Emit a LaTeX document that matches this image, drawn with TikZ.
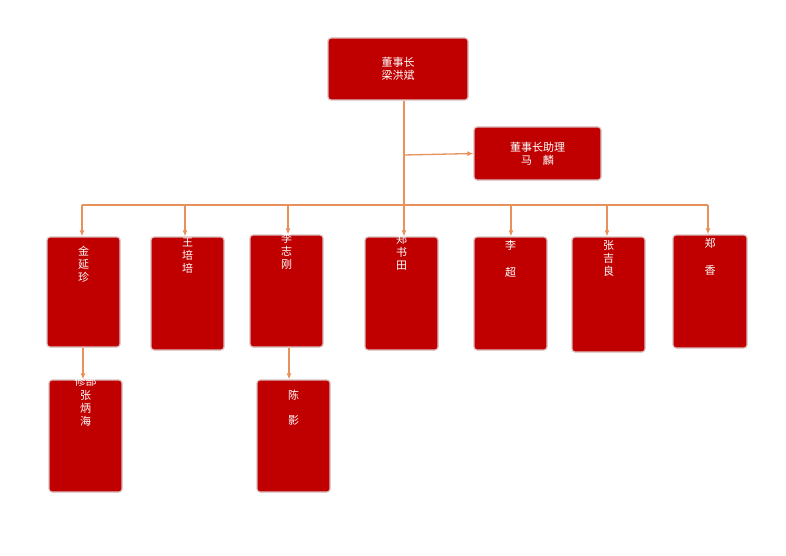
\documentclass[tikz,border=0pt]{standalone}
\usepackage{fontspec}
\setmainfont{Noto Sans CJK SC}
\usetikzlibrary{positioning}
\definecolor{boxred}{HTML}{C00000}
\definecolor{linkor}{HTML}{E8915A}
\tikzset{
  orgbox/.style={draw=red!25!gray!40, line width=1.2pt, fill=boxred, rounded corners=3pt, inner sep=0pt},
  orgtext/.style={text=white, font=\fontsize{11}{13}\selectfont, align=center, inner sep=0pt, anchor=north},
  link/.style={draw=linkor, line width=1.3pt},
  linkarr/.style={link, -{Latex[length=6pt,width=5pt]}}
}
\usetikzlibrary{arrows.meta}
\begin{document}
\begin{tikzpicture}[x=1pt,y=-1pt]
  \useasboundingbox (0,0) rectangle (786,556);
  % top
  \node[orgbox, minimum width=140, minimum height=62] (chair) at (398,69) {};
  \node[orgtext, anchor=center] (chairT) at (chair.center) {董事长\\梁洪斌};
  \node[orgbox, minimum width=127, minimum height=53] (assist) at (537.5,153.5) {};
  \node[orgtext, anchor=center] (assistT) at (assist.center) {董事长助理\\马\quad 麟};
  % departments
  \node[orgbox, minimum width=73, minimum height=110] (sales) at (83.5,292) {};
  \node[orgbox, minimum width=73, minimum height=113] (plan) at (187.5,293.5) {};
  \node[orgbox, minimum width=73, minimum height=112] (fin) at (286.5,291) {};
  \node[orgbox, minimum width=73, minimum height=113] (eng) at (401.5,293.5) {};
  \node[orgbox, minimum width=73, minimum height=113] (qc) at (510.5,293.5) {};
  \node[orgbox, minimum width=73, minimum height=115] (prod) at (608.5,294.5) {};
  \node[orgbox, minimum width=74, minimum height=113] (gen) at (710,291.5) {};
  \node[orgbox, minimum width=73, minimum height=112] (repair) at (85.5,436) {};
  \node[orgbox, minimum width=73, minimum height=112] (store) at (293.5,436) {};
  % texts
  \node[orgtext] at ([yshift=15]sales.north) {销售部\\[12pt]金\\延\\珍};
  \node[orgtext] at ([yshift=15]plan.north) {计划部\\[3pt]王\\培\\培};
  \node[orgtext] at ([yshift=17]fin.north) {财务部\\[3pt]李\\志\\刚};
  \node[orgtext] at ([yshift=15]eng.north) {工程部\\郑\\书\\田};
  \node[orgtext] at ([yshift=15]qc.north) {质检部\\[6pt]李\\[14pt]超};
  \node[orgtext] at ([yshift=15]prod.north) {生产部\\[6pt]张\\吉\\良};
  \node[orgtext] at ([yshift=17]gen.north) {综合部\\[8pt]郑\\[14pt]香};
  \node[orgtext] at ([yshift=16]repair.north) {设备维\\修部\\[1pt]张\\炳\\海};
  \node[orgtext] at ([yshift=16]store.north) {仓储部\\[14pt]陈\\[12pt]影};
  % connectors
  \coordinate (bus) at (404,205);
  \coordinate (busL) at (82,205);
  \coordinate (busR) at (708,205);
  \draw[link] (chair.south -| bus) -- (bus);
  \draw[linkarr] (404,155) -- (assist.west);
  \draw[link] (busL) -- (busR);
  \draw[linkarr] (bus) -- (eng.north -| bus);
  \foreach \d/\x in {sales/82,plan/185,fin/288,qc/511,prod/607,gen/708}
    \draw[linkarr] (\x,205) -- (\d.north -| \x,0);
  \draw[linkarr] (sales.south -| 83,0) -- (repair.north -| 83,0);
  \draw[linkarr] (fin.south -| 289,0) -- (store.north -| 289,0);
\end{tikzpicture}
\end{document}
